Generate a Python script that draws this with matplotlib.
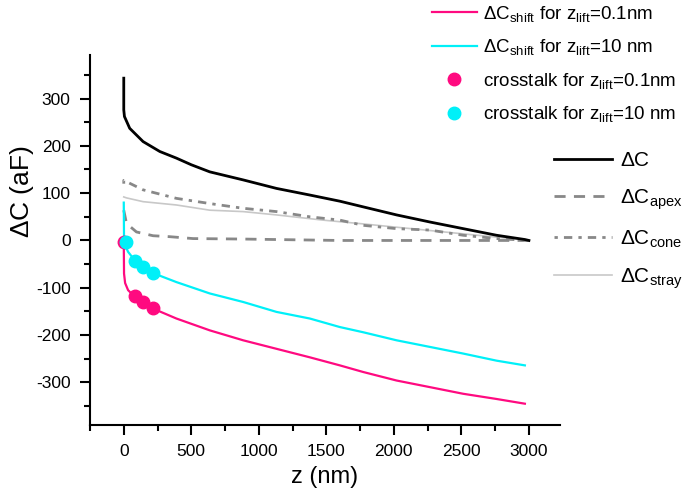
import matplotlib
matplotlib.use("Agg")
import matplotlib.pyplot as plt
from matplotlib.lines import Line2D
from matplotlib.ticker import MultipleLocator

plt.rcParams['font.family'] = ['Liberation Sans', 'DejaVu Sans']
plt.rcParams['mathtext.fontset'] = 'custom'
plt.rcParams['mathtext.rm'] = 'Liberation Sans'
plt.rcParams['mathtext.it'] = 'Liberation Sans'
plt.rcParams['axes.unicode_minus'] = False

# values
z_dc = [0, 0, 5, 44, 143, 267, 390, 500, 637, 884, 1131, 1378, 1600, 1773, 2020, 2267, 2513, 2760, 2970, 3000]
dc = [343, 276, 262, 237, 209, 188, 174, 160, 145, 128, 110, 96, 83, 71, 54, 39, 25, 11, 2, 0]

z_apex = [0, 20, 94, 217, 340, 513, 884, 1600, 3000]
dc_apex = [64, 36, 18, 10, 8, 4, 3, 0, 0]

z_cone = [0, 0, 143, 390, 637, 884, 1131, 1378, 1600, 1773, 2020, 2267, 2513, 2760, 3000]
dc_cone = [120, 127, 107, 89, 78, 68, 61, 50, 43, 32, 25, 22, 11, 4, 0]

z_stray = [0, 20, 143, 390, 637, 884, 1131, 1475, 1773, 2020, 2267, 2513, 2760, 3000]
dc_stray = [92, 90, 82, 75, 64, 61, 54, 43, 35, 28, 21, 14, 7, 0]

z_shift = [0, 2, 10, 32, 81, 143, 217, 390, 637, 884, 1131, 1378, 1600, 1773, 2020, 2267, 2513, 2760, 2970]
shift_01 = [-3, -70, -90, -105, -119, -133, -144, -165, -190, -211, -229, -247, -264, -278, -296, -310, -324, -335, -345]
shift_10 = [80, 0, -10, -24, -42, -56, -69, -88, -112, -130, -151, -165, -183, -194, -211, -225, -239, -254, -264]

z_cross_01 = [0, 85, 140, 215]
cross_01 = [-3, -118, -130, -143]
z_cross_10 = [15, 85, 140, 215]
cross_10 = [-4, -43, -57, -69]

pink = '#ff0a80'
cyan = '#00f0f8'

fig = plt.figure(figsize=(6.86, 4.99), dpi=100)
ax = fig.add_axes([0.1312, 0.1483, 0.6851, 0.7415])

ax.plot(z_stray, dc_stray, color='#c8c8c8', lw=1.2)
ax.plot(z_cone, dc_cone, color='#888888', lw=2, dashes=(1.2, 2.2, 3, 2.2))
ax.plot(z_apex, dc_apex, color='#888888', lw=2, dashes=(4, 3))
ax.plot(z_dc, dc, color='black', lw=2)
ax.plot(z_shift, shift_01, color=pink, lw=1.6)
ax.plot(z_shift, shift_10, color=cyan, lw=1.6)
ax.plot(z_cross_01, cross_01, 'o', color=pink, ms=9)
ax.plot(z_cross_10, cross_10, 'o', color=cyan, ms=9)

ax.set_xlim(-250, 3230)
ax.set_ylim(-390, 392)
ax.xaxis.set_major_locator(MultipleLocator(500))
ax.xaxis.set_minor_locator(MultipleLocator(250))
ax.yaxis.set_major_locator(MultipleLocator(100))
ax.yaxis.set_minor_locator(MultipleLocator(50))
ax.tick_params(which='major', length=7, width=1.5, labelsize=12.5, pad=7)
ax.tick_params(which='minor', length=4, width=1.5)
for s in ['top', 'right']:
    ax.spines[s].set_visible(False)
for s in ['left', 'bottom']:
    ax.spines[s].set_linewidth(1.5)

ax.set_xlabel('z (nm)', fontsize=17, labelpad=5)
ax.set_ylabel(r'$\Delta$C (aF)', fontsize=19)
ax.yaxis.set_label_coords(-0.115, 0.63)

h1 = [Line2D([], [], color=pink, lw=1.6),
      Line2D([], [], color=cyan, lw=1.6),
      Line2D([], [], ls='none', marker='o', color=pink, ms=9),
      Line2D([], [], ls='none', marker='o', color=cyan, ms=9)]
l1 = [r'$\Delta$C$_{\rm shift}$ for z$_{\rm lift}$=0.1nm',
      r'$\Delta$C$_{\rm shift}$ for z$_{\rm lift}$=10 nm',
      r'crosstalk for z$_{\rm lift}$=0.1nm',
      r'crosstalk for z$_{\rm lift}$=10 nm']
fig.legend(h1, l1, loc='upper left', bbox_to_anchor=(0.605, 1.026), frameon=False,
           fontsize=13.5, handlelength=2.4, handletextpad=0.3, labelspacing=0.72)

h2 = [Line2D([], [], color='black', lw=2),
      Line2D([], [], color='#888888', lw=2, dashes=(4, 3)),
      Line2D([], [], color='#888888', lw=2, dashes=(1.2, 2.2, 3, 2.2)),
      Line2D([], [], color='#c8c8c8', lw=1.2)]
l2 = [r'$\Delta$C', r'$\Delta$C$_{\rm apex}$', r'$\Delta$C$_{\rm cone}$', r'$\Delta$C$_{\rm stray}$']
fig.legend(h2, l2, loc='upper left', bbox_to_anchor=(0.78, 0.734), frameon=False,
           fontsize=15, handlelength=2.8, handletextpad=0.4, labelspacing=0.8)

fig.savefig('out.png', dpi=100)
